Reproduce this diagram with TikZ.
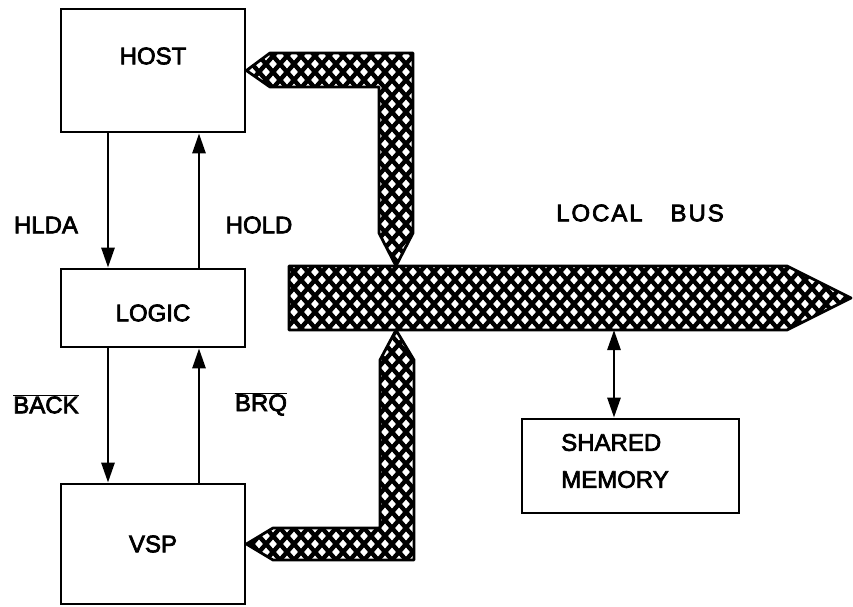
\documentclass[tikz,border=0pt]{standalone}
\usepackage{fontspec}
\setmainfont{Liberation Sans}[FakeBold=3]
\usetikzlibrary{arrows.meta}
\newcommand{\negsig}[1]{\ensuremath{\overline{\mbox{#1}}}}

\begin{document}
\begin{tikzpicture}[x=1pt,y=-1pt,
  font=\fontsize{24}{29}\selectfont,
  box/.style={draw=black,line width=2.8pt,minimum width=184pt,inner sep=0pt},
  sig/.style={-{Triangle[length=20pt,width=13pt]},line width=2.8pt},
  bus/.style={draw=black,line width=2.8pt,line join=round},
  mesh/.style={line width=4.4pt},
  tag/.style={inner sep=0pt}]
\useasboundingbox (0,0) rectangle (853,606);

% boxes
\node[box,minimum height=123pt] (host) at (153,70.5) {};
\node[tag] (host_t) at (153,56) {HOST};
\node[box,minimum height=78pt] (logic) at (153,308) {};
\node[tag] (logic_t) at (153,313) {LOGIC};
\node[box,minimum height=120pt] (vsp) at (153,544) {VSP};
\node[box,minimum width=217pt,minimum height=94pt] (mem) at (630.5,466) {};
\node[tag,align=left,font=\fontsize{24}{37}\selectfont] (mem_t) at (615,461) {SHARED\\MEMORY};

% handshake lines
\draw[sig] ([xshift=-45pt]host.south) -- ([xshift=-45pt]logic.north);
\draw[sig] ([xshift=46pt]logic.north) -- ([xshift=46pt]host.south);
\draw[sig] ([xshift=-45pt]logic.south) -- ([xshift=-45pt]vsp.north);
\draw[sig] ([xshift=46pt]vsp.north) -- ([xshift=46pt]logic.south);
\node[tag] (hlda) at (46,225) {HLDA};
\node[tag] (hold) at (259,225) {HOLD};
\node[tag] (back) at (46,404) {\negsig{BACK}};
\node[tag] (brq) at (261,404) {\negsig{BRQ}};

% local bus: cross-hatched arms
\begin{scope}
\clip (host.east) -- (270,53) -- (413,53) -- (413,233) -- (396,266)
  -- (379,233) -- (379,87) -- (270,87) -- cycle
  (289,266) -- (787,266) -- (851,298) -- (787,330) -- (289,330) -- cycle
  (396,330) -- (414,360) -- (414,560) -- (273,560) -- (vsp.east)
  -- (273,528) -- (380,528) -- (380,360) -- cycle;
\foreach \k in {-25,...,100} {
  \draw[mesh] ({14*\k-8.75},-10) -- ++(551.25,630);
  \draw[mesh] ({14*\k+8.75},-10) -- ++(-551.25,630);
}
\end{scope}
\draw[bus] (host.east) -- (270,53) -- (413,53) -- (413,233) -- (396,266)
  -- (379,233) -- (379,87) -- (270,87) -- cycle;
\draw[bus] (289,266) -- (787,266) -- (851,298) -- (787,330) -- (289,330) -- cycle;
\draw[bus] (396,330) -- (414,360) -- (414,560) -- (273,560) -- (vsp.east)
  -- (273,528) -- (380,528) -- (380,360) -- cycle;
\node[tag] (bus_name) at (640,213) {\addfontfeature{LetterSpace=8}LOCAL\hspace{28pt}BUS};

\coordinate (bus_tap) at (614,330);
\draw[sig,{Triangle[length=20pt,width=13pt]}-{Triangle[length=20pt,width=13pt]}]
  (bus_tap) -- (bus_tap |- mem.north);
\end{tikzpicture}
\end{document}
